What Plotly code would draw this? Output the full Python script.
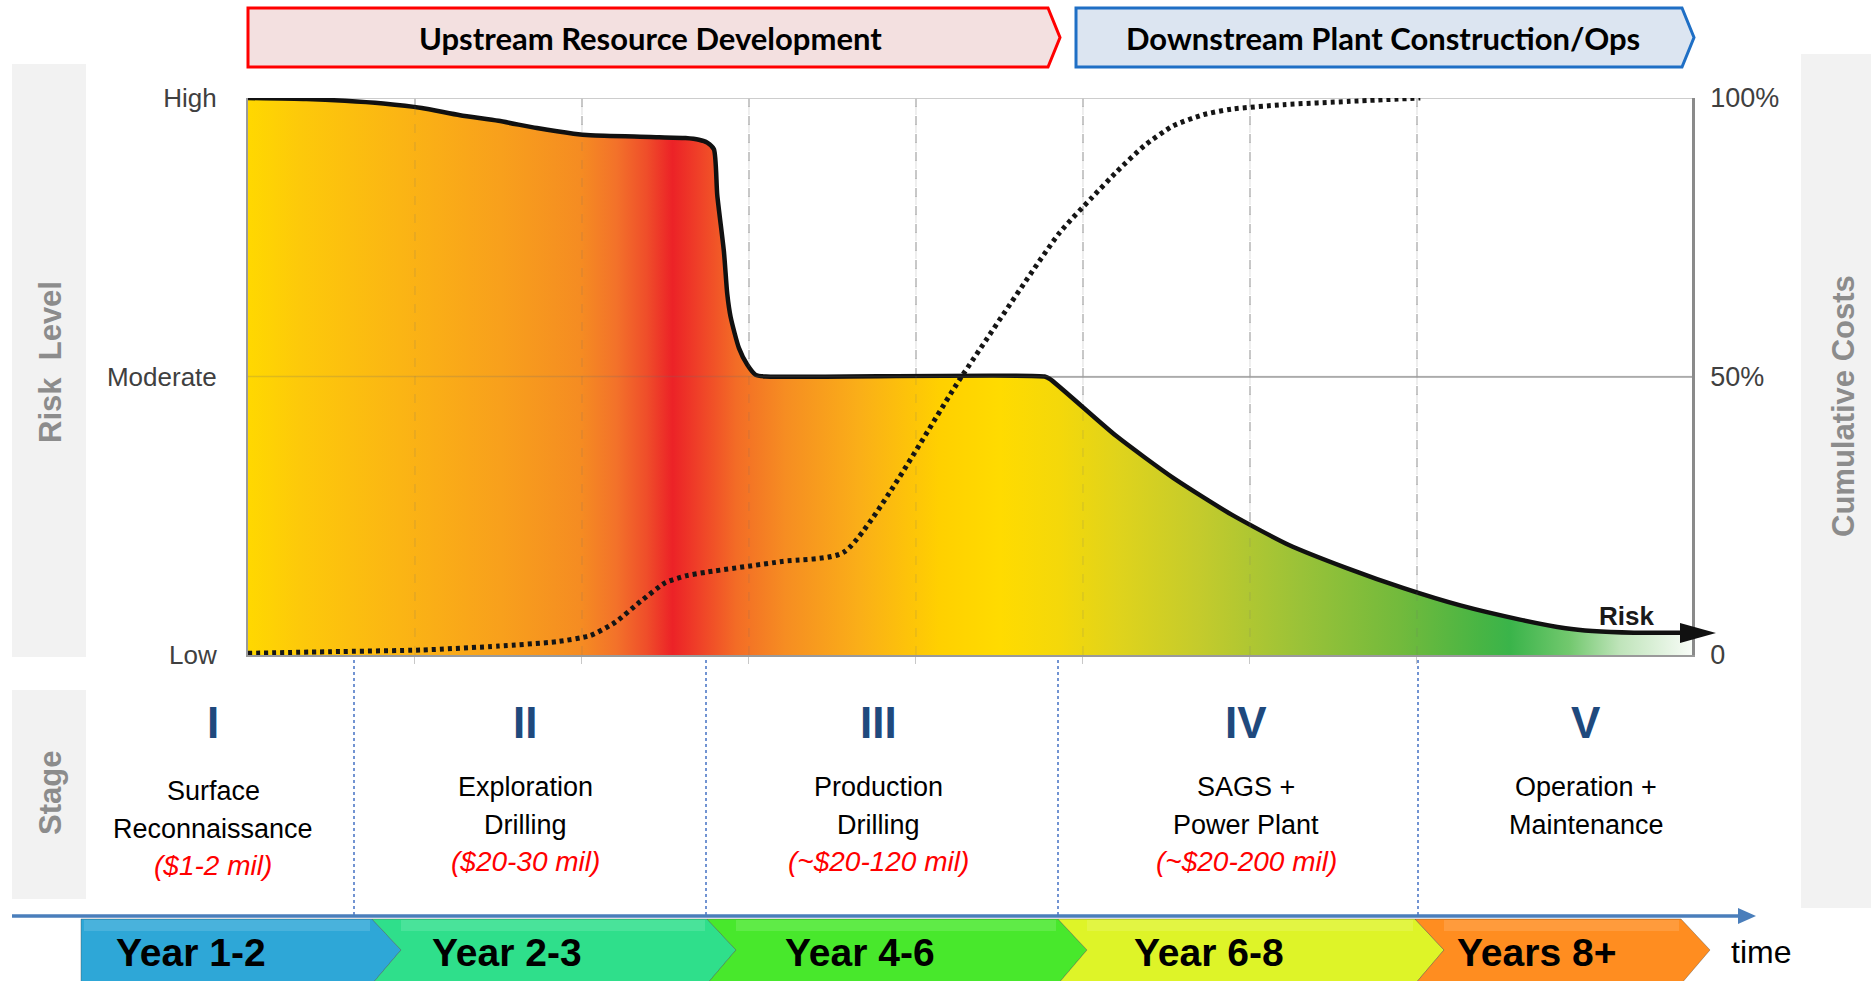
import plotly.graph_objects as go

# ---------------- data ----------------
# x in "time grid" units (one unit = one dashed grid column), y in % of axis
risk_x = [0.00, 0.35, 0.58, 0.81, 1.04, 1.27, 1.50, 1.73, 1.95, 2.05, 2.41, 2.62, 2.70, 2.75,
          2.79, 2.81, 2.85, 2.87, 2.89, 2.94, 2.99, 3.04, 3.10, 4.77, 4.80, 5.20, 5.54, 5.89,
          6.23, 6.58, 6.92, 7.26, 7.61, 7.89, 8.05, 8.30, 8.65]
risk_y = [100.0, 99.8, 99.5, 99.0, 98.2, 96.9, 95.9, 94.6, 93.6, 93.3, 93.0, 92.8, 92.5, 92.0,
          90.8, 82.6, 72.4, 64.8, 60.7, 55.1, 52.1, 50.3, 50.0, 50.0, 49.6, 39.3, 31.8, 25.2,
          19.8, 15.6, 12.0, 8.9, 6.4, 4.8, 4.3, 4.0, 4.0]

cost_x = [0.00, 0.50, 1.04, 1.50, 1.85, 2.05, 2.20, 2.35, 2.50, 2.62, 2.75, 3.20, 3.57, 4.28,
          4.86, 5.05, 5.20, 5.37, 5.54, 5.72, 5.89, 6.20, 6.60, 7.02]
cost_y = [0.3, 0.6, 0.9, 1.6, 2.4, 3.5, 5.9, 9.6, 13.0, 14.2, 14.9, 16.8, 18.5, 50.3,
          75.8, 82.0, 86.7, 91.5, 95.0, 97.0, 98.0, 98.8, 99.4, 100.0]

risk_tickvals = [0, 50, 100]
risk_ticktext = ["Low", "Moderate", "High"]
cost_ticktext = ["0", "50%", "100%"]
grid_x = [1, 2, 3, 4, 5, 6, 7]

phase_labels = ["Upstream Resource Development", "Downstream Plant Construction/Ops"]
stage_numerals = ["I", "II", "III", "IV", "V"]
stage_line1 = ["Surface", "Exploration", "Production", "SAGS +", "Operation +"]
stage_line2 = ["Reconnaissance", "Drilling", "Drilling", "Power Plant", "Maintenance"]
stage_costs = ["($1-2 mil)", "($20-30 mil)", "(~$20-120 mil)", "(~$20-200 mil)", ""]
year_labels = ["Year 1-2", "Year 2-3", "Year 4-6", "Year 6-8", "Years 8+"]
year_colors = ["#2EA7D7", "#2FDF8B", "#48E82C", "#DEF428", "#FF8D20"]

# gradient of the risk area (left -> right)
risk_colorscale = [
    [0.000, "#FFD800"], [0.036, "#FDC90A"], [0.105, "#FBB514"], [0.175, "#F8A01C"],
    [0.230, "#F58C22"], [0.255, "#F3722A"], [0.276, "#EF4E2A"], [0.294, "#EC2227"],
    [0.312, "#EF4028"], [0.338, "#F36C26"], [0.372, "#F68D22"], [0.424, "#FAAF18"],
    [0.479, "#FFD000"], [0.521, "#FFDB00"], [0.562, "#F4D80A"], [0.604, "#DFD31C"],
    [0.659, "#C4CB2C"], [0.729, "#9AC238"], [0.798, "#72BA3C"], [0.853, "#48B544"],
    [0.874, "#3AB44A"], [0.915, "#72C86E"], [0.950, "#BFE4BA"], [1.000, "#F8FCF7"],
]

# ---------------- layout geometry (pixels) ----------------
W, H = 1871, 981
PL, PR, PT, PB = 248, 1692, 98, 655
XMAX = 8.647


def fx(p):
    return (p - PL) / (PR - PL)


def fy(p):
    return (PB - p) / (PB - PT)


SANS = "Liberation Sans, Arial, sans-serif"
CAL = "Lato, Open Sans, sans-serif"

fig = go.Figure()

fig.add_trace(go.Scatter(
    x=risk_x, y=risk_y, mode="lines", fill="tozeroy",
    fillgradient=dict(type="horizontal", colorscale=risk_colorscale, start=0, stop=XMAX),
    line=dict(color="#111111", width=4.5, shape="spline", smoothing=0.6),
    hoverinfo="skip", showlegend=False,
))
fig.add_trace(go.Scatter(
    x=cost_x, y=cost_y, mode="lines", yaxis="y2",
    line=dict(color="#151515", width=5, dash="4px,4px", shape="spline", smoothing=0.6),
    hoverinfo="skip", showlegend=False,
))

shapes = []
ann = []


def rect(x0, y0, x1, y1, color, layer="below"):
    shapes.append(dict(type="rect", xref="paper", yref="paper", x0=fx(x0), x1=fx(x1),
                       y0=fy(y1), y1=fy(y0), fillcolor=color, line=dict(width=0), layer=layer))


def poly(pts, fill, line_color=None, lw=0, layer="above"):
    d = "M " + " L ".join(f"{fx(a):.5f},{fy(b):.5f}" for a, b in pts) + " Z"
    shapes.append(dict(type="path", xref="paper", yref="paper", path=d, fillcolor=fill,
                       line=dict(color=line_color or fill, width=lw), layer=layer))


def seg(x0, y0, x1, y1, color, width, dash="solid", layer="above"):
    shapes.append(dict(type="line", xref="paper", yref="paper", x0=fx(x0), y0=fy(y0),
                       x1=fx(x1), y1=fy(y1), line=dict(color=color, width=width, dash=dash),
                       layer=layer))


def txt(x, y, s, size, color="#000000", family=SANS, angle=0, xanchor="center"):
    ann.append(dict(x=fx(x), y=fy(y), xref="paper", yref="paper", text=s, showarrow=False,
                    font=dict(family=family, size=size, color=color), textangle=angle,
                    xanchor=xanchor, yanchor="middle"))


# grey side panels
rect(12, 64, 86, 657, "#F2F2F2")
rect(12, 690, 86, 899, "#F2F2F2")
rect(1801, 54, 1871, 908, "#F2F2F2")

# faint grid showing through the area
for gx in grid_x:
    shapes.append(dict(type="line", xref="x", yref="paper", x0=gx, x1=gx, y0=0, y1=1,
                       line=dict(color="rgba(110,110,110,0.16)", width=1.5, dash="dash"),
                       layer="above"))
shapes.append(dict(type="line", xref="paper", yref="y", x0=0, x1=1, y0=50, y1=50,
                   line=dict(color="rgba(110,110,110,0.22)", width=1.5), layer="above"))
shapes.append(dict(type="line", xref="paper", yref="y", x0=0, x1=1, y0=100, y1=100,
                   line=dict(color="#BDBDBD", width=1.5), layer="below"))

# top phase banners
poly([(248, 8), (1048, 8), (1060, 37.5), (1048, 67), (248, 67)], "#F3E0E0", "#FF0000", 3)
poly([(1076, 8), (1682, 8), (1694, 37.5), (1682, 67), (1076, 67)], "#DCE5F1", "#1F6FC5", 3)
txt(650, 38, "<b>" + phase_labels[0] + "</b>", 31, family=CAL)
txt(1383, 38, "<b>" + phase_labels[1] + "</b>", 31, family=CAL)

# risk arrow head + label
poly([(1680, 623), (1716, 633), (1680, 643)], "#111111")
txt(1626, 616, "<b>Risk</b>", 26, "#1A1A1A")

# axis titles in grey panels
txt(50, 362, "<b>Risk  Level</b>", 31, "#8C8C8C", SANS, -90)
txt(1843, 406, "<b>Cumulative Costs</b>", 31, "#8C8C8C", SANS, -90)
txt(50, 793, "<b>Stage</b>", 31, "#8C8C8C", SANS, -90)

# stage separators
for sx in [354, 706, 1058, 1418]:
    seg(sx, 660, sx, 915, "#4472C4", 1.5, "dot")

# stage texts
stage_cx = [213, 525, 878, 1246, 1586]
for i in range(5):
    cx = stage_cx[i]
    dy = 4 if i == 0 else 0
    txt(cx, 722, "<b>" + stage_numerals[i] + "</b>", 44, "#1F497D", SANS)
    txt(cx, 787 + dy, stage_line1[i], 27, "#000000", SANS)
    txt(cx, 825 + dy, stage_line2[i], 27, "#000000", SANS)
    if stage_costs[i]:
        txt(cx, 861 + dy, "<i>" + stage_costs[i] + "</i>", 28, "#FF0000", SANS)

# timeline arrow
seg(12, 916, 1742, 916, "#4A7EBB", 3.5)
poly([(1738, 908), (1756, 916), (1738, 924)], "#4A7EBB")

# year chevrons
bounds = [81, 372, 707, 1058, 1415, 1681]
TOP, MID, BOT, DEPTH = 919, 950, 984, 29
for i in range(5):
    a, b = bounds[i], bounds[i + 1]
    if i == 0:
        pts = [(a, TOP), (b, TOP), (b + DEPTH, MID), (b, BOT), (a, BOT)]
    else:
        pts = [(a, TOP), (b, TOP), (b + DEPTH, MID), (b, BOT), (a, BOT), (a + DEPTH, MID)]
    poly(pts, year_colors[i], "rgba(60,60,60,0.35)", 1)
    rect(a + (3 if i == 0 else DEPTH), TOP + 1, b - 2, TOP + 12, "rgba(255,255,255,0.13)", "above")

year_cx = [191, 507, 860, 1209, 1536]
for i in range(5):
    txt(year_cx[i], 952, "<b>" + year_labels[i] + "</b>", 39, "#000000", SANS)
txt(1761, 952, "time", 32, "#000000", SANS)

fig.update_layout(
    width=W, height=H, autosize=False,
    margin=dict(l=PL, r=W - PR, t=PT, b=H - PB, pad=0),
    paper_bgcolor="white", plot_bgcolor="white",
    showlegend=False, shapes=shapes, annotations=ann,
    xaxis=dict(range=[0, XMAX], tickvals=grid_x, showticklabels=False, ticks="outside",
               ticklen=7, tickcolor="#C8C8C8", showgrid=True, griddash="dash",
               gridcolor="#C8C8C8", gridwidth=1.5, showline=True, linecolor="#9A9A9A",
               linewidth=2, zeroline=False, fixedrange=True),
    yaxis=dict(range=[0, 100], tickvals=risk_tickvals, ticktext=risk_ticktext,
               tickfont=dict(family=SANS, size=26, color="#404040"), ticks="",
               ticklabelstandoff=24, showgrid=True, gridcolor="#BDBDBD", gridwidth=1.5,
               showline=True, linecolor="#9A9A9A", linewidth=2, zeroline=False,
               fixedrange=True),
    yaxis2=dict(range=[0, 100], overlaying="y", side="right", tickvals=risk_tickvals,
                ticktext=cost_ticktext, tickfont=dict(family=SANS, size=27, color="#404040"),
                ticks="", ticklabelstandoff=10, showgrid=False, showline=True,
                linecolor="#8A8A8A", linewidth=2.5, zeroline=False, fixedrange=True),
)

fig.write_html("out.html", config={"displayModeBar": False},
               post_script="document.body.style.margin='0';document.body.style.overflow='hidden';")
